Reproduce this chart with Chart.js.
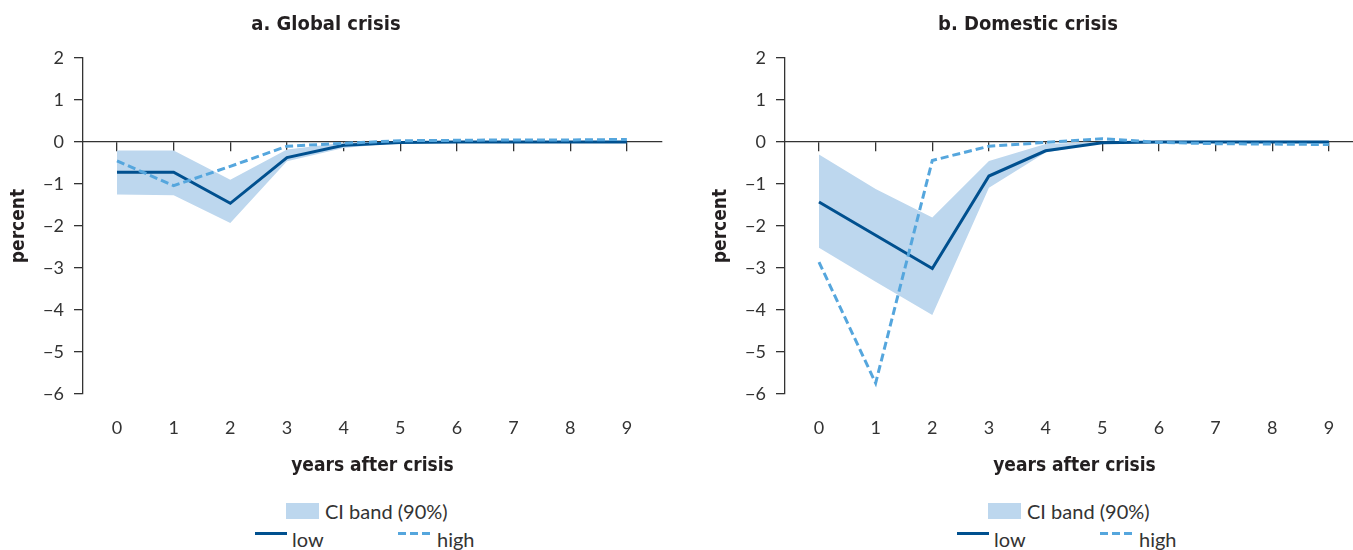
<!DOCTYPE html>
<html>
<head>
<meta charset="utf-8">
<script src="https://cdn.jsdelivr.net/npm/chart.js@4.4.1/dist/chart.umd.min.js"></script>
<style>
  html, body { margin: 0; padding: 0; background: #fff; }
  body { width: 1353px; height: 550px; overflow: hidden; position: relative; font-family: Lato, sans-serif; color: #333; }
  .panel { position: absolute; top: 0; width: 676px; height: 550px; }
  .panel canvas { position: absolute; left: 0; top: 0; }
  .ptitle { position: absolute; left: 0; top: 11px; width: 652px; text-align: center; line-height: 28px;
            font: bold 20px "Liberation Sans Narrow", "DejaVu Sans Condensed", sans-serif; color: #231f20; }
  .lg-box { position: absolute; width: 33px; height: 16px; background: #bdd7ee; }
  .lg-txt { position: absolute; font-size: 20px; line-height: 24px; color: #333; white-space: nowrap; }
  .lg-line { position: absolute; width: 32px; height: 3px; }
</style>
</head>
<body>
<div class="panel" style="left:0">
  <canvas id="globalChart" width="676" height="490"></canvas>
  <div class="ptitle">a. Global crisis</div>
  <div class="lg-box" style="left:286px;top:503px"></div><span class="lg-txt" style="left:325px;top:499px">CI band (90%)</span>
  <div class="lg-line low" style="left:255px;top:532px"></div><span class="lg-txt" style="left:292px;top:527px">low</span>
  <div class="lg-line high" style="left:398px;top:532px"></div><span class="lg-txt" style="left:437px;top:527px">high</span>
</div>
<div class="panel" style="left:702px">
  <canvas id="domesticChart" width="676" height="490"></canvas>
  <div class="ptitle">b. Domestic crisis</div>
  <div class="lg-box" style="left:286px;top:503px"></div><span class="lg-txt" style="left:325px;top:499px">CI band (90%)</span>
  <div class="lg-line low" style="left:255px;top:532px"></div><span class="lg-txt" style="left:292px;top:527px">low</span>
  <div class="lg-line high" style="left:398px;top:532px"></div><span class="lg-txt" style="left:437px;top:527px">high</span>
</div>

<script>
// Years after crisis (x) and y-axis tick values
const years = [0, 1, 2, 3, 4, 5, 6, 7, 8, 9];
const yTicks = [2, 1, 0, -1, -2, -3, -4, -5, -6];

// a. Global crisis
const globalLow    = [-0.72, -0.72, -1.46, -0.37, -0.08, -0.01, 0, 0, 0, 0];
const globalHigh   = [-0.45, -1.04, -0.58, -0.10, -0.03, 0.03, 0.04, 0.05, 0.05, 0.06];
const globalBandUp = [-0.20, -0.20, -0.90, -0.18, -0.02, 0, 0, 0, 0, 0];
const globalBandLo = [-1.25, -1.27, -1.93, -0.46, -0.14, -0.02, 0, 0, 0, 0];

// b. Domestic crisis
const domesticLow    = [-1.43, -2.22, -3.01, -0.81, -0.21, -0.02, 0, 0, 0, 0];
const domesticHigh   = [-2.86, -5.74, -0.44, -0.10, -0.01, 0.08, -0.01, -0.04, -0.05, -0.06];
const domesticBandUp = [-0.30, -1.12, -1.80, -0.45, -0.05, 0, 0, 0, 0, 0];
const domesticBandLo = [-2.52, -3.33, -4.12, -1.09, -0.25, -0.02, 0, 0, 0, 0];

const LOW_COLOR = '#00508f';
const HIGH_COLOR = '#55a6dd';
const BAND_COLOR = '#bdd7ee';
const AXIS_COLOR = '#333333';
const TITLE_FONT = { family: '"Liberation Sans Narrow", "DejaVu Sans Condensed", sans-serif', size: 19, weight: 'bold' };
const TICK_FONT = { family: 'Lato, sans-serif', size: 18 };

document.querySelectorAll('.lg-line.low').forEach(el => { el.style.background = LOW_COLOR; });
document.querySelectorAll('.lg-line.high').forEach(el => {
  el.style.background = `repeating-linear-gradient(90deg, ${HIGH_COLOR} 0 8px, transparent 8px 12px)`;
});

const toPoints = arr => years.map((x, i) => ({ x, y: arr[i] }));
const setTicks = values => scale => { scale.ticks = values.map(v => ({ value: v })); };

function buildChart(canvasId, low, high, bandUp, bandLo) {
  return new Chart(document.getElementById(canvasId), {
    type: 'line',
    data: {
      datasets: [
        { label: 'high', data: toPoints(high), borderColor: HIGH_COLOR, borderWidth: 3,
          borderDash: [8, 4], pointRadius: 0, fill: false, order: 0 },
        { label: 'low', data: toPoints(low), borderColor: LOW_COLOR, borderWidth: 3,
          pointRadius: 0, fill: false, order: 1 },
        { label: 'CI band (90%)', data: toPoints(bandUp), borderWidth: 0, borderColor: 'transparent',
          backgroundColor: BAND_COLOR, pointRadius: 0, fill: '+1', order: 2 },
        { label: 'CI lower', data: toPoints(bandLo), borderWidth: 0, borderColor: 'transparent',
          pointRadius: 0, fill: false, order: 3 }
      ]
    },
    options: {
      responsive: false,
      animation: false,
      events: [],
      layout: { padding: { top: 58, right: 14, left: 0, bottom: 0 } },
      plugins: { legend: { display: false }, tooltip: { enabled: false } },
      scales: {
        x: {
          type: 'linear', min: -0.6, max: 9.62, position: 'bottom',
          afterBuildTicks: setTicks(years),
          afterFit: s => { s.height = 96; },
          grid: { display: false, drawTicks: false },
          border: { display: false },
          ticks: { padding: 23, color: AXIS_COLOR, font: TICK_FONT },
          title: { display: true, text: 'years after crisis', color: '#231f20', font: TITLE_FONT,
                   padding: { top: 0, bottom: 13 } }
        },
        // zero line with the year tick marks
        x0: {
          type: 'linear', axis: 'x', min: -0.6, max: 9.62, position: { y: 0 },
          afterBuildTicks: setTicks(years),
          ticks: { display: false },
          grid: { drawOnChartArea: false, drawTicks: true, tickLength: 9, color: AXIS_COLOR, lineWidth: 1.3 },
          border: { display: true, color: AXIS_COLOR, width: 1.3 }
        },
        y: {
          type: 'linear', min: -6, max: 2,
          afterBuildTicks: setTicks(yTicks),
          afterFit: s => { s.width = 83; },
          grid: { drawOnChartArea: false, drawTicks: true, tickLength: 9, color: AXIS_COLOR, lineWidth: 1.3 },
          border: { display: true, color: AXIS_COLOR, width: 1.3 },
          ticks: { padding: 10, color: AXIS_COLOR, font: TICK_FONT,
                   callback: v => String(v).replace('-', '\u2212') },
          title: { display: true, text: 'percent', color: '#231f20', font: TITLE_FONT,
                   padding: { top: 8, bottom: 0 } }
        }
      }
    }
  });
}

buildChart('globalChart', globalLow, globalHigh, globalBandUp, globalBandLo);
buildChart('domesticChart', domesticLow, domesticHigh, domesticBandUp, domesticBandLo);
</script>
</body>
</html>
